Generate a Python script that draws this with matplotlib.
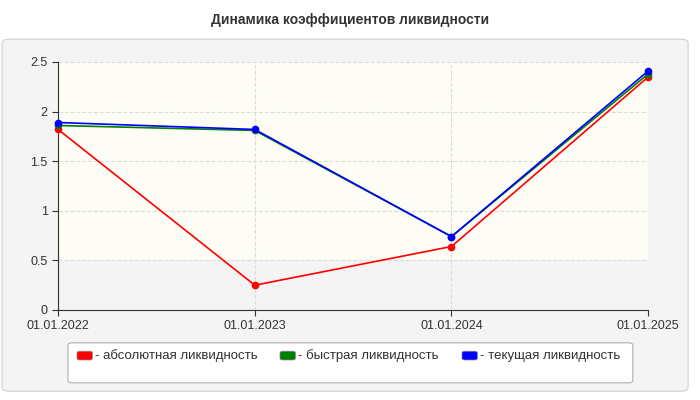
import matplotlib.pyplot as plt
from matplotlib.patches import FancyBboxPatch

dates = ["01.01.2022", "01.01.2023", "01.01.2024", "01.01.2025"]
absolute = [1.82, 0.25, 0.64, 2.35]
quick = [1.86, 1.81, 0.74, 2.38]
current = [1.89, 1.82, 0.74, 2.41]
names = ["- абсолютная ликвидность", "- быстрая ликвидность", "- текущая ликвидность"]
colors = ["#ff0000", "#008000", "#0000ff"]

plt.rcParams['font.family'] = ['Liberation Sans', 'DejaVu Sans']
fig = plt.figure(figsize=(7, 4), dpi=100)

# grey panel behind everything
fig.patches.append(FancyBboxPatch((0.003, 0.022), 0.98, 0.88, boxstyle="round,pad=0,rounding_size=0.01",
                                  transform=fig.transFigure, facecolor="#f4f4f4", edgecolor="#d0d0d0",
                                  lw=0.8, zorder=-10))
fig.text(0.5, 0.95, "Динамика коэффициентов ликвидности", ha="center", va="center",
         fontsize=10, fontweight="bold", color="#333333")

ax = fig.add_axes([0.083, 0.225, 0.843, 0.62], zorder=1)
ax.set_facecolor("#fdfdf6")
ax.axhspan(0, 0.5, facecolor="#f4f4f4", zorder=0)
x = range(len(dates))
for ys, c in zip([absolute, quick, current], colors):
    ax.plot(x, ys, color=c, lw=1.2, marker="o", ms=4.5, zorder=3, clip_on=False)
ax.set_xlim(0, 3)
ax.set_ylim(0, 2.5)
ax.set_xticks(list(x))
ax.set_xticklabels(dates)
ax.set_yticks([0, 0.5, 1, 1.5, 2, 2.5])
ax.set_yticklabels(["0", "0.5", "1", "1.5", "2", "2.5"])
ax.grid(color="#dddddd", ls="--", lw=0.8)
ax.set_axisbelow(True)
for s in ["top", "right"]:
    ax.spines[s].set_visible(False)
for s in ["left", "bottom"]:
    ax.spines[s].set_color("#333333")
ax.tick_params(labelsize=9, colors="#333333", length=4)

# legend box
fig.patches.append(FancyBboxPatch((0.097, 0.043), 0.807, 0.1, boxstyle="round,pad=0,rounding_size=0.006",
                                  transform=fig.transFigure, facecolor="white", edgecolor="#b0b0b0",
                                  lw=0.8, zorder=2))
xs = [0.11, 0.4, 0.66]
for xp, n, c in zip(xs, names, colors):
    fig.patches.append(FancyBboxPatch((xp, 0.1), 0.022, 0.022, boxstyle="round,pad=0,rounding_size=0.004",
                                      transform=fig.transFigure, facecolor=c, edgecolor="#888888",
                                      lw=0.5, zorder=3))
    fig.text(xp + 0.026, 0.11, n, fontsize=9.5, va="center", color="#333333")

fig.savefig("out.png")
